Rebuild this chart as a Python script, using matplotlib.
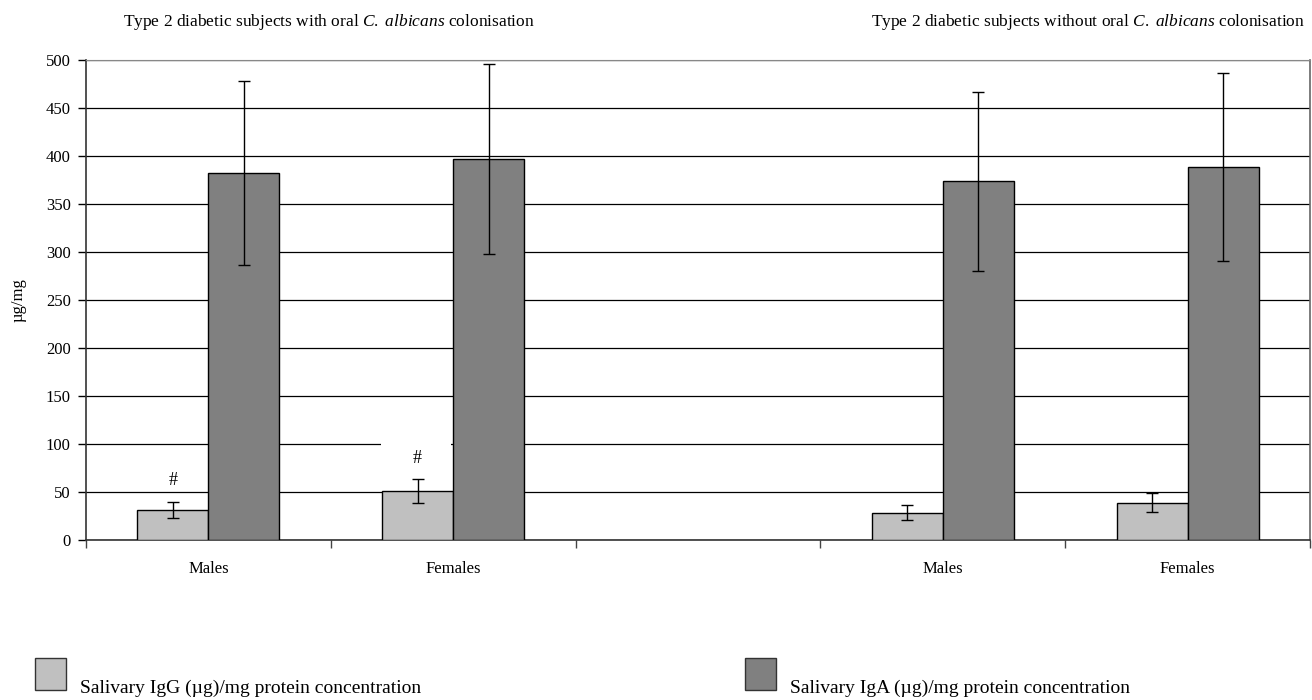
import matplotlib

matplotlib.use("Agg")
import matplotlib.pyplot as plt
import numpy as np
from matplotlib.patches import Rectangle

plt.rcParams["font.family"] = ["Liberation Serif", "DejaVu Serif"]
plt.rcParams["mathtext.fontset"] = "custom"
plt.rcParams["mathtext.rm"] = "Liberation Serif"
plt.rcParams["mathtext.it"] = "Liberation Serif:italic"

# five category slots, the middle one is left empty as a spacer
categories = ["Males", "Females", "", "Males", "Females"]
igg_mean = [31.5, 51.0, np.nan, 28.5, 39.0]
igg_sd = [8.5, 12.5, np.nan, 7.5, 10.0]
iga_mean = [382.5, 396.5, np.nan, 373.5, 388.5]
iga_sd = [96.0, 99.0, np.nan, 93.0, 97.5]
marks = ["#", "#", "", "", ""]
group_titles = [
    r"Type 2 diabetic subjects with oral $\it{C.\ albicans}$ colonisation",
    r"Type 2 diabetic subjects without oral $\it{C.\ albicans}$ colonisation",
]
series_labels = [
    "Salivary IgG (µg)/mg protein concentration",
    "Salivary IgA (µg)/mg protein concentration",
]
yticks = list(range(0, 501, 50))

IGG_COLOR = "#c0c0c0"
IGA_COLOR = "#808080"

fig = plt.figure(figsize=(13.12, 7.0), dpi=100)
ax = fig.add_axes([0.0655, 0.2286, 0.933, 0.6857])

x = np.arange(len(categories))
width = 0.29

ax.bar(x - width / 2, igg_mean, width, color=IGG_COLOR, edgecolor="black",
       linewidth=1.0, zorder=3)
ax.bar(x + width / 2, iga_mean, width, color=IGA_COLOR, edgecolor="black",
       linewidth=1.0, zorder=3)
ax.errorbar(x - width / 2, igg_mean, yerr=igg_sd, fmt="none", ecolor="black",
            elinewidth=1.0, capsize=4, capthick=1.0, zorder=4)
ax.errorbar(x + width / 2, iga_mean, yerr=iga_sd, fmt="none", ecolor="black",
            elinewidth=1.0, capsize=4, capthick=1.0, zorder=4)

for xi, m, s, mark in zip(x, igg_mean, igg_sd, marks):
    if mark:
        ax.text(xi - width / 2, m + s + 13, mark, ha="center", va="bottom",
                fontsize=13)

ax.set_xlim(-0.5, len(categories) - 0.5)
ax.set_ylim(0, 500)
ax.set_yticks(yticks)
ax.yaxis.grid(True, color="black", linewidth=0.9, zorder=0)
ax.set_axisbelow(True)

# white patch behind the label gap on the 100 gridline
ax.add_patch(Rectangle((0.705, 96), 0.285, 8, facecolor="white",
                       edgecolor="none", zorder=1))

ax.set_xticks(np.arange(len(categories) + 1) - 0.5)
ax.set_xticklabels([])
ax.set_xticks(x, minor=True)
ax.set_xticklabels(categories, minor=True)
ax.tick_params(axis="x", which="major", length=6, width=1, color="#444444")
ax.tick_params(axis="x", which="minor", length=0, pad=15, labelsize=12)
ax.tick_params(axis="y", length=6, width=1, labelsize=12, pad=5)

for side in ("left", "bottom"):
    ax.spines[side].set_color("#333333")
    ax.spines[side].set_linewidth(1.2)
ax.spines["top"].set_color("#888888")
ax.spines["right"].set_color("#666666")
ax.spines["right"].set_linewidth(1.2)

ax.set_ylabel("µg/mg", fontsize=12, labelpad=14)

fig.text(329 / 1312, 1 - 22 / 700, group_titles[0], ha="center",
         va="center", fontsize=12.5)
fig.text(1088 / 1312, 1 - 22 / 700, group_titles[1], ha="center",
         va="center", fontsize=12.5)

for left, color, label in zip([35, 745], [IGG_COLOR, IGA_COLOR],
                              series_labels):
    fig.patches.append(Rectangle((left / 1312, 1 - 690 / 700), 31 / 1312,
                                 32 / 700, transform=fig.transFigure,
                                 facecolor=color, edgecolor="#333333",
                                 linewidth=1.0))
    fig.text((left + 45) / 1312, 1 - 688 / 700, label, ha="left",
             va="center", fontsize=14)

fig.savefig("out.png", dpi=100)
